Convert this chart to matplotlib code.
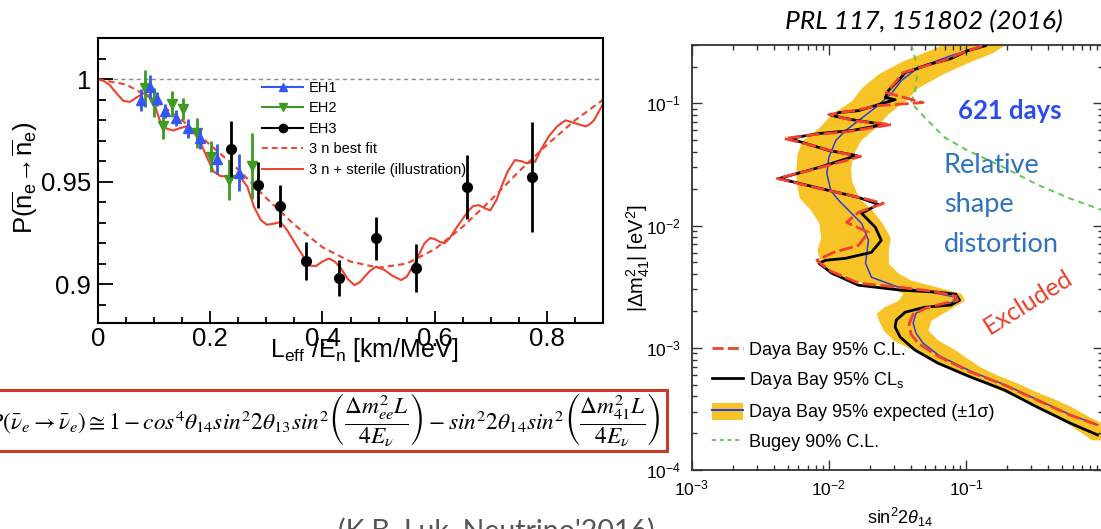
import numpy as np
import matplotlib
matplotlib.use('Agg')
import matplotlib.pyplot as plt
from matplotlib.lines import Line2D
from matplotlib.patches import Patch, Rectangle
from matplotlib.ticker import FixedLocator, MultipleLocator, LogLocator, NullFormatter

plt.rcParams['font.family'] = ['Liberation Sans', 'DejaVu Sans']
plt.rcParams['mathtext.fontset'] = 'custom'
plt.rcParams['mathtext.rm'] = 'Liberation Sans'
plt.rcParams['mathtext.it'] = 'Liberation Sans:italic'
plt.rcParams['mathtext.bf'] = 'Liberation Sans:bold'

# ---------------- left panel data ----------------
xtick_vals = [0.0, 0.2, 0.4, 0.6, 0.8]
xtick_labels = ['0', '0.2', '0.4', '0.6', '0.8']
ytick_vals = [0.90, 0.95, 1.00]
ytick_labels = ['0.9', '0.95', '1']

eh1_x = [0.076, 0.0925, 0.1045, 0.119, 0.139, 0.160, 0.182, 0.212, 0.251]
eh1_y = [0.990, 0.9964, 0.9904, 0.9845, 0.981, 0.976, 0.9712, 0.961, 0.9544]
eh1_err = [0.0053, 0.0057, 0.0035, 0.0035, 0.004, 0.0045, 0.005, 0.0073, 0.009]

eh2_x = [0.084, 0.100, 0.115, 0.131, 0.152, 0.176, 0.201, 0.233, 0.275]
eh2_y = [0.9956, 0.9886, 0.9772, 0.988, 0.9855, 0.9736, 0.9622, 0.9508, 0.9577]
eh2_err = [0.009, 0.007, 0.0065, 0.0065, 0.0053, 0.0073, 0.0075, 0.0098, 0.016]

eh3_x = [0.237, 0.285, 0.325, 0.370, 0.430, 0.4955, 0.566, 0.6585, 0.774]
eh3_y = [0.9661, 0.9482, 0.9383, 0.9112, 0.9028, 0.9223, 0.9077, 0.9476, 0.9524]
eh3_err = [0.0137, 0.0112, 0.0103, 0.0092, 0.0088, 0.0104, 0.0118, 0.0156, 0.027]

fit_x = [0.0, 0.05, 0.1, 0.15, 0.2, 0.25, 0.3, 0.35, 0.4, 0.45, 0.5, 0.55, 0.6,
         0.65, 0.7, 0.75, 0.8, 0.85, 0.9]
fit_y = [1.0, 0.9975, 0.990, 0.980, 0.968, 0.956, 0.942, 0.929, 0.918, 0.911, 0.908,
         0.910, 0.917, 0.928, 0.941, 0.955, 0.968, 0.980, 0.990]

ster_x = [0.0, 0.010, 0.021, 0.033, 0.045, 0.057, 0.069, 0.081, 0.0925, 0.100, 0.110,
          0.122, 0.134, 0.146, 0.158, 0.170, 0.182, 0.194, 0.206, 0.218, 0.230, 0.242,
          0.254, 0.266, 0.278, 0.290, 0.301, 0.313, 0.325, 0.337, 0.355, 0.370, 0.379,
          0.388, 0.400, 0.412, 0.422, 0.433, 0.445, 0.457, 0.467, 0.475, 0.485, 0.4955,
          0.510, 0.525, 0.540, 0.550, 0.564, 0.582, 0.592, 0.600, 0.610, 0.618, 0.627,
          0.636, 0.658, 0.668, 0.678, 0.690, 0.699, 0.710, 0.719, 0.730, 0.743, 0.755,
          0.764, 0.779, 0.790, 0.803, 0.818, 0.833, 0.851, 0.869, 0.876, 0.884, 0.892,
          0.899]
ster_y = [1.0, 0.9993, 0.9972, 0.9932, 0.9895, 0.989, 0.9912, 0.9932, 0.9918, 0.9885,
          0.980, 0.976, 0.975, 0.9762, 0.977, 0.9744, 0.9695, 0.962, 0.955, 0.9528,
          0.9525, 0.9528, 0.9522, 0.9476, 0.9378, 0.9313, 0.929, 0.9295, 0.9303, 0.9264,
          0.9182, 0.9117, 0.909, 0.9088, 0.911, 0.9125, 0.911, 0.9077, 0.9025, 0.8995,
          0.901, 0.9036, 0.9065, 0.9085, 0.907, 0.904, 0.902, 0.9035, 0.910, 0.920,
          0.9225, 0.922, 0.9205, 0.920, 0.9225, 0.9264, 0.935, 0.938, 0.9386, 0.937,
          0.936, 0.941, 0.9476, 0.955, 0.9606, 0.960, 0.959, 0.9598, 0.966, 0.972,
          0.977, 0.980, 0.9785, 0.977, 0.978, 0.980, 0.984, 0.9875]

# ---------------- right panel data (log10 values) ----------------
band_log_dm2 = [-0.52, -0.586, -0.651, -0.758, -0.872, -0.978, -1.084, -1.198, -1.304,
                -1.411, -1.525, -1.631, -1.770, -1.876, -1.982, -2.096, -2.202, -2.309,
                -2.390, -2.447, -2.504, -2.553, -2.611, -2.668, -2.717, -2.774, -2.856,
                -2.937, -3.019, -3.100, -3.158, -3.223, -3.288, -3.362, -3.427, -3.492,
                -3.566, -3.631, -3.696, -3.753]
band_log_left = [-1.168, -1.313, -1.458, -1.638, -1.761, -1.834, -1.978, -2.072, -2.195,
                 -2.231, -2.239, -2.239, -2.217, -2.130, -2.072, -2.058, -2.087, -2.058,
                 -1.964, -1.834, -1.566, -1.458, -1.494, -1.602, -1.653, -1.638, -1.602,
                 -1.530, -1.385, -1.241, -1.154, -1.024, -0.865, -0.720, -0.576, -0.460,
                 -0.337, -0.243, -0.156, -0.084]
band_log_right = [-0.713, -0.807, -0.952, -1.168, -1.349, -1.443, -1.566, -1.660, -1.769,
                  -1.819, -1.841, -1.834, -1.783, -1.682, -1.610, -1.552, -1.566, -1.566,
                  -1.494, -1.400, -1.205, -1.038, -1.009, -1.096, -1.168, -1.255, -1.277,
                  -1.205, -1.074, -0.973, -0.894, -0.771, -0.626, -0.482, -0.337, -0.214,
                  -0.098, 0.025, 0.025, 0.025]

cls_log_s2t = [-0.858, -0.988, -1.111, -1.277, -1.443, -1.494, -1.566, -1.588, -1.516,
               -1.638, -1.783, -1.928, -1.978, -1.834, -1.595, -1.834, -2.072, -2.289,
               -2.166, -2.000, -1.798, -2.072, -2.362, -2.094, -1.783, -1.638, -1.761,
               -1.660, -1.617, -1.689, -1.877, -2.022, -2.072, -1.978, -1.783, -1.472,
               -1.205, -1.074, -1.046, -1.111, -1.299, -1.443, -1.508, -1.516, -1.479,
               -1.371, -1.205, -0.966, -0.720, -0.482, -0.243, -0.040]
cls_log_dm2 = [-0.529, -0.570, -0.635, -0.684, -0.749, -0.815, -0.896, -0.953, -0.970,
               -1.011, -1.060, -1.076, -1.100, -1.133, -1.174, -1.223, -1.247, -1.288,
               -1.329, -1.386, -1.427, -1.525, -1.615, -1.688, -1.770, -1.827, -1.900,
               -2.015, -2.121, -2.219, -2.268, -2.284, -2.309, -2.390, -2.488, -2.529,
               -2.545, -2.562, -2.611, -2.651, -2.668, -2.709, -2.774, -2.831, -2.913,
               -3.019, -3.125, -3.239, -3.345, -3.484, -3.615, -3.713]

cl95_log_s2t = [-0.879, -1.024, -1.168, -1.313, -1.458, -1.516, -1.581, -1.313, -1.638,
                -1.819, -2.000, -1.819, -1.544, -1.855, -2.108, -2.325, -2.145, -1.964,
                -1.769, -2.087, -2.376, -2.072, -1.747, -1.602, -1.783, -1.870, -1.711,
                -1.783, -1.964, -2.087, -2.000, -1.783, -1.494, -1.241, -1.074, -1.060,
                -1.277, -1.385, -1.414, -1.400, -1.349, -1.205, -0.966, -0.720, -0.482,
                -0.243, -0.040]
cl95_log_dm2 = [-0.529, -0.586, -0.651, -0.700, -0.749, -0.831, -0.913, -0.994, -1.019,
                -1.060, -1.092, -1.141, -1.174, -1.231, -1.256, -1.288, -1.337, -1.394,
                -1.435, -1.533, -1.615, -1.696, -1.778, -1.819, -1.892, -1.974, -2.056,
                -2.162, -2.219, -2.284, -2.366, -2.472, -2.504, -2.537, -2.578, -2.611,
                -2.668, -2.725, -2.807, -2.888, -2.962, -3.068, -3.198, -3.304, -3.427,
                -3.549, -3.631]

exp_log_s2t = [-0.865, -1.111, -1.349, -1.472, -1.544, -1.660, -1.783, -1.877, -1.949,
               -2.000, -2.014, -1.986, -1.928, -1.855, -1.761, -1.711, -1.732, -1.689,
               -1.494, -1.255, -1.074, -1.096, -1.277, -1.364, -1.385, -1.364, -1.313,
               -1.190, -0.952, -0.713, -0.474, -0.236, -0.040]
exp_log_dm2 = [-0.529, -0.611, -0.709, -0.815, -0.921, -1.035, -1.141, -1.223, -1.304,
               -1.443, -1.574, -1.713, -1.794, -1.876, -1.982, -2.121, -2.309, -2.423,
               -2.504, -2.545, -2.586, -2.627, -2.668, -2.717, -2.798, -2.880, -2.962,
               -3.068, -3.198, -3.304, -3.427, -3.549, -3.631]

bugey_log_s2t = [-1.400, -1.349, -1.371, -1.400, -1.299, -1.154, -0.988, -0.720, -0.482,
                 -0.243, 0.0]
bugey_log_dm2 = [-0.52, -0.709, -0.896, -0.994, -1.117, -1.280, -1.386, -1.525, -1.664,
                 -1.778, -1.876]

right_xticks = [1e-3, 1e-2, 1e-1]
right_yticks = [1e-4, 1e-3, 1e-2, 1e-1]

left_legend_labels = ['EH1', 'EH2', 'EH3', '3 n best fit', '3 n + sterile (illustration)']
right_legend_labels = ['Daya Bay 95% C.L.', 'Daya Bay 95% CL$_\\mathregular{s}$',
                       'Daya Bay 95% expected (\u00b11\u03c3)', 'Bugey 90% C.L.']

# ---------------- colours ----------------
C_BLUE = '#3358F2'
C_GREEN = '#3F9A22'
C_RED = '#F0412F'
C_YEL = '#F8C326'
C_EXPB = '#2B3FD6'
C_BUG = '#5ACB4A'

W, H = 1101, 529
fig = plt.figure(figsize=(W / 100, H / 100), dpi=100)

# ================= left panel =================
ax1 = fig.add_axes([98 / W, 1 - 323 / H, 505 / W, 285 / H])
ax1.set_xlim(0, 0.9)
ax1.set_ylim(0.881, 1.0202)
ax1.axhline(1.0, color='#8a8a8a', lw=1.0, ls=(0, (3, 2.5)), zorder=1)
ax1.plot(fit_x, fit_y, color=C_RED, lw=1.5, ls=(0, (3, 2)), zorder=2)
ax1.plot(ster_x, ster_y, color=C_RED, lw=1.5, zorder=2)
ax1.errorbar(eh1_x, eh1_y, yerr=eh1_err, fmt='^', color=C_BLUE, ms=7, elinewidth=2,
             capsize=0, zorder=4)
ax1.errorbar(eh2_x, eh2_y, yerr=eh2_err, fmt='v', color=C_GREEN, ms=7, elinewidth=2,
             capsize=0, zorder=3)
ax1.errorbar(eh3_x, eh3_y, yerr=eh3_err, fmt='o', color='black', ms=7, elinewidth=2,
             capsize=0, zorder=5)

ax1.xaxis.set_major_locator(FixedLocator(xtick_vals))
ax1.xaxis.set_minor_locator(MultipleLocator(0.05))
ax1.yaxis.set_major_locator(FixedLocator(ytick_vals))
ax1.yaxis.set_minor_locator(MultipleLocator(0.01))
ax1.set_xticklabels(xtick_labels)
ax1.set_yticklabels(ytick_labels)
ax1.tick_params(which='both', direction='in', top=False, right=False, width=1.3,
                labelsize=18.5)
ax1.tick_params(axis='x', which='major', length=9, pad=3)
ax1.tick_params(axis='x', which='minor', length=4.5)
ax1.tick_params(axis='y', which='major', length=11, pad=5)
ax1.tick_params(axis='y', which='minor', length=6)
for s in ax1.spines.values():
    s.set_linewidth(1.5)

lh = [Line2D([], [], color=C_BLUE, marker='^', ms=6, lw=1.5),
      Line2D([], [], color=C_GREEN, marker='v', ms=6, lw=1.5),
      Line2D([], [], color='black', marker='o', ms=6, lw=1.5),
      Line2D([], [], color=C_RED, lw=1.4, ls=(0, (3, 2))),
      Line2D([], [], color=C_RED, lw=1.4)]
ax1.legend(lh, left_legend_labels, loc='upper left', bbox_to_anchor=(0.325, 0.85),
           frameon=False, fontsize=10.5, handlelength=2.8, handletextpad=0.4,
           labelspacing=0.45, borderpad=0, borderaxespad=0)

fig.text(270 / W, 1 - 350 / H,
         r'L$_{\mathregular{eff}}$ /E$_{\mathregular{n}}$ [km/MeV]',
         fontsize=18, ha='left', va='center')
fig.text(25 / W, 1 - 178 / H,
         r'P($\overline{\mathregular{n}}_{\mathregular{e}}\!\rightarrow\!\overline{\mathregular{n}}_{\mathregular{e}}$)',
         fontsize=18.5, rotation=90, ha='center', va='center')

# ================= formula box =================
fig.patches.append(Rectangle((-5 / W, 1 - 451 / H), 672 / W, 61 / H,
                             transform=fig.transFigure, fill=False,
                             edgecolor='#C8392C', lw=2.2))
formula = (r'$P(\bar{\nu}_e \rightarrow \bar{\nu}_e) \cong 1 - cos^4\theta_{14}sin^2 2\theta_{13}'
           r'sin^2\left(\dfrac{\Delta m^2_{ee}L}{4E_\nu}\right) - sin^2 2\theta_{14}'
           r'sin^2\left(\dfrac{\Delta m^2_{41}L}{4E_\nu}\right)$')
fig.text(661 / W, 1 - 420 / H, formula, fontsize=16.85, ha='right', va='center',
         math_fontfamily='stix')

# ================= right panel =================
ax2 = fig.add_axes([691.7 / W, 1 - 470 / H, (1103 - 691.7) / W, 425 / H])
ax2.set_xscale('log')
ax2.set_yscale('log')
ax2.fill_betweenx(10 ** np.array(band_log_dm2), 10 ** np.array(band_log_left),
                  10 ** np.array(band_log_right), color=C_YEL, lw=0, zorder=1)
ax2.plot(10 ** np.array(exp_log_s2t), 10 ** np.array(exp_log_dm2), color=C_EXPB, lw=1.1,
         zorder=2)
ax2.plot(10 ** np.array(cls_log_s2t), 10 ** np.array(cls_log_dm2), color='black', lw=2,
         zorder=3)
ax2.plot(10 ** np.array(cl95_log_s2t), 10 ** np.array(cl95_log_dm2), color=C_RED, lw=2,
         ls=(0, (5, 1.5)), zorder=4)
ax2.plot(10 ** np.array(bugey_log_s2t), 10 ** np.array(bugey_log_dm2), color=C_BUG, lw=1.4,
         ls=(0, (3, 2.5)), zorder=2)
ax2.set_xlim(1e-3, 1)
ax2.set_ylim(1e-4, 0.3)
ax2.xaxis.set_major_locator(FixedLocator(right_xticks))
ax2.xaxis.set_minor_locator(LogLocator(base=10, subs=np.arange(2, 10) * 0.1, numticks=20))
ax2.yaxis.set_major_locator(FixedLocator(right_yticks))
ax2.yaxis.set_minor_locator(LogLocator(base=10, subs=np.arange(2, 10) * 0.1, numticks=20))
ax2.xaxis.set_minor_formatter(NullFormatter())
ax2.yaxis.set_minor_formatter(NullFormatter())
ax2.tick_params(which='both', direction='in', top=True, right=True, width=1.0,
                labelsize=12.5, color='#333333')
ax2.tick_params(which='major', length=7)
ax2.tick_params(which='minor', length=3.8)
ax2.tick_params(axis='x', pad=6)
ax2.tick_params(axis='y', pad=8)
for s in ax2.spines.values():
    s.set_linewidth(1.3)
    s.set_color('#333333')

rh = [Line2D([], [], color=C_RED, lw=2, ls=(0, (4, 1.5))),
      Line2D([], [], color='black', lw=2),
      (Patch(facecolor=C_YEL, edgecolor='none'), Line2D([], [], color=C_EXPB, lw=1.5)),
      Line2D([], [], color=C_BUG, lw=1.4, ls=(0, (2, 2)))]
ax2.legend(rh, right_legend_labels, loc='upper left', bbox_to_anchor=(0.049, 0.305),
           frameon=False, fontsize=13, handlelength=1.7, handleheight=1.1,
           handletextpad=0.35, labelspacing=0.62, borderpad=0, borderaxespad=0)

fig.text(638 / W, 1 - 258 / H, r'$|\Delta\mathregular{m}^2_{41}|$ [eV$^2$]', fontsize=14.5,
         rotation=90, ha='center', va='center')
fig.text(900 / W, 1 - 517 / H, r'sin$^2$2$\theta_{14}$', fontsize=13, ha='center',
         va='center')

fig.text(924 / W, 1 - 22 / H, 'PRL 117, 151802 (2016)', fontfamily='Lato', style='italic',
         fontsize=19, ha='center', va='center', color='black')
fig.text(1010 / W, 1 - 111 / H, '621 days', fontfamily='Lato', fontweight='bold',
         fontsize=18.5, ha='center', va='center', color='#2A4CF2')
fig.text(944 / W, 1 - 205 / H, 'Relative\nshape\ndistortion', fontfamily='Lato',
         fontsize=19.5, ha='left', va='center', color='#2E72C0', linespacing=1.72)
fig.text(1028 / W, 1 - 302 / H, 'Excluded', fontfamily='Lato', fontsize=18, rotation=32,
         ha='center', va='center', color='#E8412F', rotation_mode='anchor')

fig.text(338 / W, -11 / H, "(K.B. Luk, Neutrino'2016)", fontfamily='Lato', fontsize=20.5,
         ha='left', va='baseline', color='#555555')

fig.savefig('out.png', dpi=100)
